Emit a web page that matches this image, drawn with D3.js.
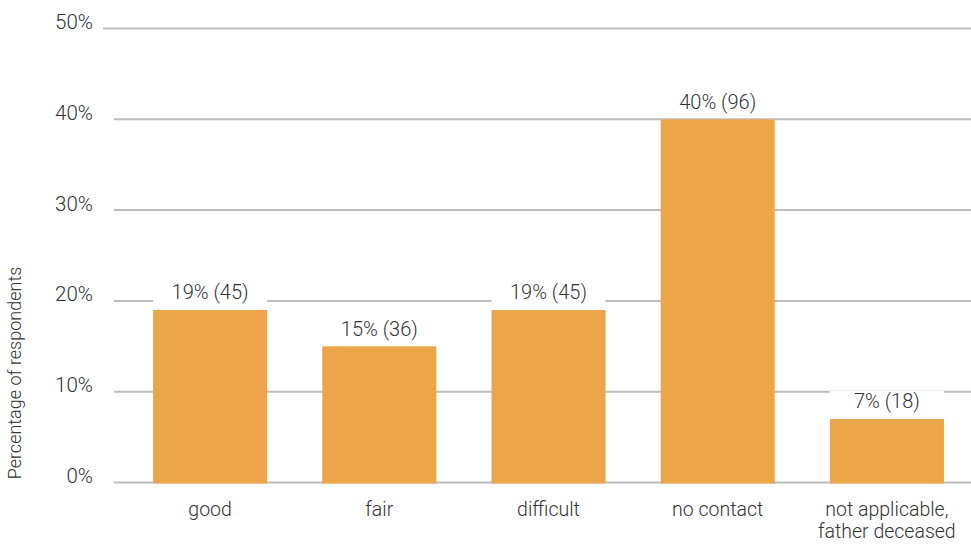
<!DOCTYPE html>
<html>
<head>
<meta charset="utf-8">
<script src="https://cdn.jsdelivr.net/npm/d3@7"></script>
<style>
  body { margin: 0; background: #fff; }
  text { font-family: Roboto, "Liberation Sans", sans-serif; font-weight: 300; fill: #333; }
</style>
</head>
<body>
<div id="chart"></div>
<script>
const categories = [['good'], ['fair'], ['difficult'], ['no contact'], ['not applicable,', 'father deceased']]
const percents = [19, 15, 19, 40, 7]
const counts = [45, 36, 45, 96, 18]
const yTicks = [0, 10, 20, 30, 40, 50]

const W = 971
const H = 545
const BAR_COLOR = '#EDA54A'
const GRID_COLOR = '#BDBDC0'

const svg = d3.select('#chart').append('svg')
  .attr('width', W)
  .attr('height', H)

const data = categories.map((c, i) => ({ key: i, lines: c, pct: percents[i], n: counts[i] }))

const x = d3.scaleBand()
  .domain(data.map(d => d.key))
  .range([125.5, 971.5])
  .paddingInner(0.326)
  .paddingOuter(0.163)

const y = d3.scaleLinear()
  .domain([0, 50])
  .range([482.5, 28.5])

// gridlines (top one starts a bit further left, as in the original)
svg.append('g')
  .selectAll('line')
  .data(yTicks)
  .join('line')
  .attr('x1', d => d === 50 ? 103 : 114)
  .attr('x2', W)
  .attr('y1', d => y(d))
  .attr('y2', d => y(d))
  .attr('stroke', GRID_COLOR)
  .attr('stroke-width', 2)

// y tick labels
const yAxis = d3.axisLeft(y)
  .tickValues(yTicks)
  .tickFormat(d => d + '%')
  .tickSize(0)
  .tickPadding(0)

const yg = svg.append('g')
  .attr('transform', 'translate(93,0)')
  .call(yAxis)
yg.select('.domain').remove()
yg.selectAll('text')
  .attr('dy', 0)
  .attr('y', 0)
  .style('font-size', '20.5px')
  .style('font-family', null)
  .attr('fill', null)

// axis title
svg.append('text')
  .attr('transform', 'translate(21,373) rotate(-90)')
  .attr('text-anchor', 'middle')
  .style('font-size', '18px')
  .text('Percentage of respondents')

// label backgrounds + bars
const groups = svg.append('g')
  .selectAll('g')
  .data(data)
  .join('g')

groups.append('rect')
  .attr('x', d => x(d.key))
  .attr('width', x.bandwidth())
  .attr('y', d => y(d.pct) - 28)
  .attr('height', 25)
  .attr('fill', '#fff')

groups.append('rect')
  .attr('x', d => x(d.key))
  .attr('width', x.bandwidth())
  .attr('y', d => y(d.pct))
  .attr('height', d => y(0) - y(d.pct) + 1)
  .attr('fill', BAR_COLOR)

groups.append('text')
  .attr('x', d => x(d.key) + x.bandwidth() / 2)
  .attr('y', d => y(d.pct) - 10.5)
  .attr('text-anchor', 'middle')
  .style('font-size', '20px')
  .text(d => `${d.pct}% (${d.n})`)

// category labels
const xl = groups.append('text')
  .attr('text-anchor', 'middle')
  .style('font-size', '19.5px')
xl.selectAll('tspan')
  .data(d => d.lines.map(l => ({ l, cx: x(d.key) + x.bandwidth() / 2 })))
  .join('tspan')
  .attr('x', d => d.cx)
  .attr('y', (d, i) => 516 + i * 22)
  .text(d => d.l)
</script>
</body>
</html>
